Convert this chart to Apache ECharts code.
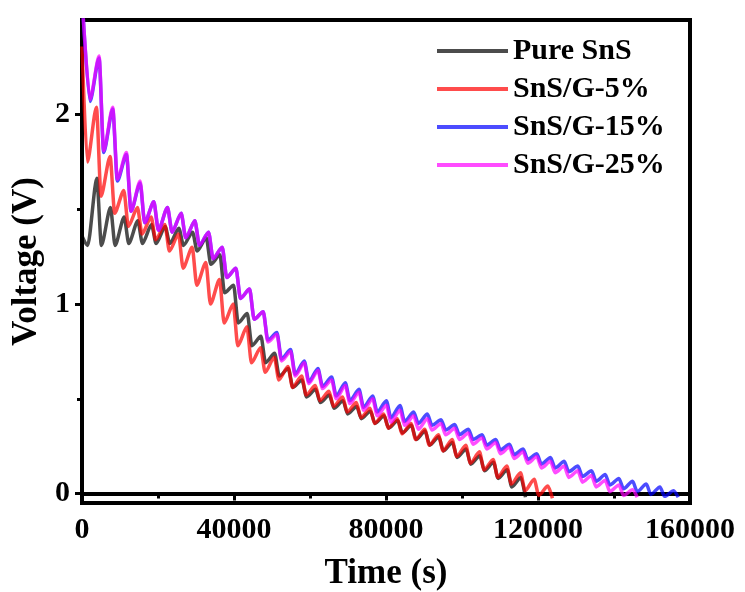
<!DOCTYPE html>
<html>
<head>
<meta charset="utf-8">
<script src="https://cdn.jsdelivr.net/npm/echarts@6/dist/echarts.min.js"></script>
<style>
  html, body { margin: 0; padding: 0; background: #fff; }
  #chart { width: 745px; height: 592px; }
</style>
</head>
<body>
<div id="chart"></div>
<script>
// GITT discharge curves: each cycle is a current pulse (voltage falls to a trough)
// followed by a rest (voltage relaxes up to a peak).
const seriesNames = ['Pure SnS', 'SnS/G-5%', 'SnS/G-15%', 'SnS/G-25%'];
const seriesColors = ['rgba(0,0,0,0.7)', 'rgba(255,0,0,0.7)', 'rgba(0,0,255,0.7)', 'rgba(255,0,255,0.7)'];

const cycleSeconds = 3600;      // pulse + rest period
const restSeconds = 2400;       // trough -> relaxed peak
const xTicks = [0, 40000, 80000, 120000, 160000];
const yTicks = [0, 1, 2];
const yMinorTicks = [0.5, 1.5];

// Open-circuit start voltage and first trough time (s) for each sample
const startVoltage = [1.36, 2.36, 2.62, 2.62];
const firstTroughTime = [1500, 1400, 2100, 2100];

// Pure SnS
const pureTrough = [1.31,1.31,1.31,1.32,1.32,1.32,1.32,1.31,1.28,1.21,1.06,0.90,0.78,0.69,0.62,0.56,0.51,0.48,0.45,0.42,0.395,0.37,0.345,0.32,0.285,0.255,0.225,0.19,0.155,0.12,0.08,0.035,-0.02];
const purePeak = [1.665,1.51,1.46,1.44,1.42,1.41,1.40,1.38,1.35,1.26,1.10,0.95,0.83,0.74,0.66,0.60,0.55,0.52,0.49,0.46,0.435,0.41,0.385,0.36,0.33,0.30,0.27,0.235,0.20,0.165,0.125,0.085];

// SnS/G-5%
const g5Trough = [1.75,1.57,1.48,1.41,1.37,1.34,1.28,1.19,1.10,1.00,0.90,0.78,0.69,0.64,0.60,0.56,0.52,0.49,0.46,0.43,0.40,0.37,0.345,0.315,0.285,0.255,0.225,0.195,0.16,0.125,0.085,0.05,0.015,-0.01,-0.025];
const g5Peak = [2.04,1.78,1.60,1.51,1.46,1.42,1.37,1.30,1.22,1.13,1.00,0.88,0.77,0.72,0.67,0.62,0.57,0.54,0.51,0.48,0.45,0.42,0.395,0.37,0.34,0.31,0.285,0.255,0.22,0.18,0.145,0.11,0.075,0.04];

// SnS/G-15%
const g15Trough = [2.07,1.80,1.65,1.49,1.43,1.39,1.38,1.35,1.31,1.24,1.14,1.03,0.92,0.81,0.71,0.63,0.59,0.565,0.515,0.49,0.455,0.43,0.40,0.38,0.37,0.36,0.335,0.31,0.285,0.255,0.23,0.205,0.18,0.155,0.135,0.115,0.09,0.065,0.045,0.025,0.01,-0.005,-0.015,-0.02];
const g15Peak = [2.30,2.03,1.79,1.64,1.54,1.51,1.48,1.44,1.38,1.30,1.19,1.08,0.96,0.85,0.76,0.70,0.66,0.615,0.585,0.55,0.515,0.49,0.465,0.43,0.42,0.39,0.365,0.34,0.31,0.285,0.26,0.235,0.21,0.19,0.17,0.145,0.12,0.10,0.08,0.065,0.05,0.035,0.015];

// SnS/G-25%
const g25Trough = [2.08,1.81,1.66,1.49,1.43,1.39,1.38,1.35,1.31,1.24,1.14,1.03,0.92,0.80,0.70,0.62,0.58,0.554,0.50,0.475,0.44,0.41,0.377,0.36,0.34,0.335,0.31,0.285,0.26,0.235,0.21,0.185,0.16,0.135,0.11,0.085,0.06,0.035,0.01,-0.01,-0.02];
const g25Peak = [2.31,2.04,1.80,1.65,1.54,1.51,1.48,1.44,1.38,1.30,1.19,1.08,0.96,0.84,0.75,0.69,0.65,0.60,0.57,0.535,0.50,0.466,0.44,0.41,0.395,0.37,0.345,0.32,0.295,0.27,0.245,0.22,0.195,0.17,0.145,0.12,0.095,0.07,0.045,0.02];

const troughs = [pureTrough, g5Trough, g15Trough, g25Trough];
const peaks = [purePeak, g5Peak, g15Peak, g25Peak];

// Assemble the [time, voltage] sequence of one sample
function buildCurve(i) {
  const pts = [[0, startVoltage[i]]];
  troughs[i].forEach((v, k) => {
    const t = firstTroughTime[i] + k * cycleSeconds;
    pts.push([t, v]);
    if (k < peaks[i].length) pts.push([t + restSeconds, peaks[i][k]]);
  });
  return pts;
}

const serif = '"Liberation Serif", "Times New Roman", serif';
const chart = echarts.init(document.getElementById('chart'), null, { renderer: 'canvas' });

chart.setOption({
  animation: false,
  backgroundColor: '#fff',
  grid: { left: 82, right: 55, top: 20, bottom: 89, outerBoundsMode: 'none', containLabel: false,
    show: true, borderColor: '#000', borderWidth: 4, backgroundColor: 'transparent' },
  legend: {
    data: seriesNames,
    orient: 'vertical',
    left: 432,
    top: 31,
    icon: 'rect',
    itemWidth: 71,
    itemHeight: 4,
    itemGap: 8,
    textStyle: { fontFamily: serif, fontSize: 30, fontWeight: 'bold', color: '#000', lineHeight: 30 }
  },
  xAxis: {
    type: 'value',
    min: 0, max: 160000, interval: 40000,
    name: 'Time (s)', nameLocation: 'middle', nameGap: 53,
    nameTextStyle: { fontFamily: serif, fontSize: 35, fontWeight: 'bold', color: '#000' },
    axisLine: { lineStyle: { color: '#000', width: 4 } },
    axisTick: { length: 7, lineStyle: { color: '#000', width: 3 } },
    minorTick: { show: true, splitNumber: 2, length: 5, lineStyle: { color: '#000', width: 3 } },
    axisLabel: { fontFamily: serif, fontSize: 30, fontWeight: 'bold', color: '#000', margin: 12,
      customValues: xTicks, formatter: v => String(v) },
    splitLine: { show: false }
  },
  yAxis: [{
    type: 'value',
    min: -0.05, max: 2.5,
    name: 'Voltage (V)', nameLocation: 'middle', nameGap: 31,
    nameTextStyle: { fontFamily: serif, fontSize: 35, fontWeight: 'bold', color: '#000' },
    axisLine: { show: true, lineStyle: { color: '#000', width: 4 } },
    axisTick: { show: true, length: 7, customValues: yTicks, lineStyle: { color: '#000', width: 3 } },
    axisLabel: { fontFamily: serif, fontSize: 30, fontWeight: 'bold', color: '#000', margin: 12,
      customValues: yTicks, formatter: v => String(v) },
    splitLine: { show: false }
  }, {
    type: 'value',
    position: 'left',
    min: -0.05, max: 2.5,
    axisLine: { show: false },
    axisTick: { show: true, length: 5, customValues: yMinorTicks, lineStyle: { color: '#000', width: 3 } },
    axisLabel: { show: false },
    splitLine: { show: false }
  }],
  series: seriesNames.map((name, i) => ({
    name,
    type: 'line',
    data: buildCurve(i),
    showSymbol: false,
    symbol: 'none',
    smooth: 0.25,
    smoothMonotone: 'x',
    clip: true,
    color: seriesColors[i],
    lineStyle: { width: 3.5, color: seriesColors[i] },
    z: 2 + i
  }))
});
</script>
</body>
</html>
